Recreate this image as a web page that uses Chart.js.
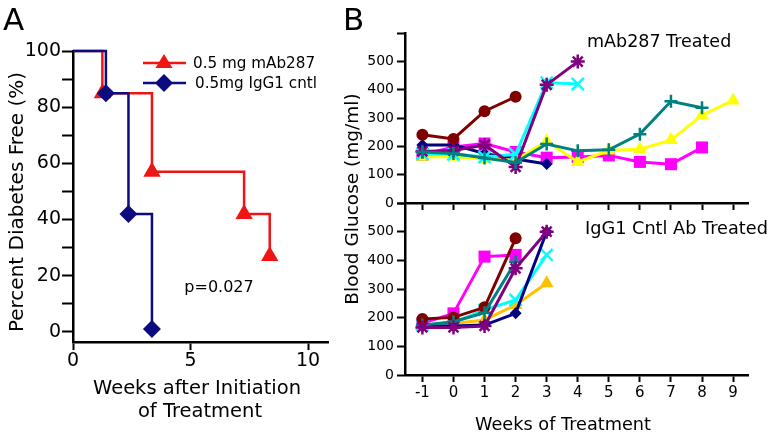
<!DOCTYPE html>
<html>
<head>
<meta charset="utf-8">
<script src="https://cdn.jsdelivr.net/npm/chart.js@4.4.0/dist/chart.umd.min.js"></script>
<style>
  html, body { margin: 0; padding: 0; background: #fff; }
  #wrap { position: relative; width: 776px; height: 436px; overflow: hidden; font-family: 'DejaVu Sans', Verdana, sans-serif; color: #000; }
  canvas { position: absolute; top: 0; }
  .txt { position: absolute; white-space: nowrap; line-height: 1; }
  .c { transform: translate(-50%, -50%); }
  .rot { transform: translate(-50%, -50%) rotate(-90deg); }
</style>
</head>
<body>
<div id="wrap">
  <canvas id="chartA" width="345" height="436" style="left:0"></canvas>
  <canvas id="chartTop" width="431" height="436" style="left:345px"></canvas>
  <canvas id="chartBot" width="431" height="436" style="left:345px"></canvas>

  <div class="txt" style="left:3px;top:4px;font-size:31px">A</div>
  <div class="txt" style="left:343px;top:4px;font-size:31px">B</div>
  <div class="txt rot" style="left:16px;top:202px;font-size:20px">Percent Diabetes Free (%)</div>
  <div class="txt c" style="left:197px;top:388px;font-size:19.5px">Weeks after Initiation</div>
  <div class="txt c" style="left:200px;top:411px;font-size:19.5px">of Treatment</div>
  <div class="txt c" style="left:219px;top:287px;font-size:16px">p=0.027</div>
  <div class="txt rot" style="left:352px;top:199px;font-size:18.5px">Blood Glucose (mg/ml)</div>
  <div class="txt" style="left:587px;top:33px;font-size:17.5px">mAb287 Treated</div>
  <div class="txt" style="left:585px;top:220px;font-size:17.7px">IgG1 Cntl Ab Treated</div>
  <div class="txt c" style="left:563px;top:425px;font-size:17.7px">Weeks of Treatment</div>
</div>

<script>
// Panel A: survival (percent diabetes free)
const mabWeeks = [0, 1.25, 3.36, 7.28, 8.37];
const mabFree = [100, 85, 57, 42, 27];
const ctrlWeeks = [0, 1.4, 2.36, 3.36];
const ctrlFree = [100, 85, 42, 1];
const mabLabel = '0.5 mg mAb287';
const ctrlLabel = '0.5mg IgG1 cntl';
const aYTicks = [0, 10, 20, 30, 40, 50, 60, 70, 80, 90, 100];
const aXTicks = [0, 5, 10];

// Panel B: blood glucose per mouse, weeks -1..9
const weeksB = [-1, 0, 1, 2, 3, 4, 5, 6, 7, 8, 9];
const bYTicks = [0, 100, 200, 300, 400, 500, 600];

// mAb287 treated
const tealTop = [180, 175, 159, 143, 208, 184, 188, 243, 359, 336];
const purpleTop = [182, 185, 205, 127, 417, 499];
const darkRedTop = [241, 226, 324, 375];
const cyanTop = [173, 172, 162, 172, 425, 420];
const yellowTop = [163, 163, 155, 152, 218, 145, 185, 190, 222, 310, 362];
const navyTop = [205, 205, 175, 155, 138];
const magentaTop = [170, 198, 210, 180, 160, 162, 168, 145, 137, 196];

// IgG1 control treated
const purpleBot = [166, 166, 171, 372, 500];
const tealBot = [174, 186, 217, 395];
const darkRedBot = [195, 201, 236, 477];
const navyBot = [171, 171, 174, 215, 500];
const cyanBot = [174, 183, 227, 262, 419];
const orangeBot = [171, 180, 192, 244, 320];
const magentaBot = [180, 215, 413, 419];

Chart.defaults.font.family = "'DejaVu Sans', Verdana, sans-serif";
Chart.defaults.color = '#000';

const RED = '#f01414';
const BLUE = '#0c0c80';

function xy(xs, ys) {
    return ys.map((y, i) => ({ x: xs[i], y: y }));
}

function setTicks(list) {
    return function (scale) {
        scale.ticks = list.map(v => ({ value: v }));
    };
}

function markerSizes(n, r) {
    const out = [];
    for (let i = 0; i < n; i++) out.push(i === 0 ? 0 : r);
    return out;
}

// legend drawn inside panel A plot
const legendA = {
    id: 'legendA',
    afterDraw(chart) {
        const ctx = chart.ctx;
        const rows = [
            { y: 63, color: RED, label: mabLabel, shape: 'tri', tx: 193 },
            { y: 83, color: BLUE, label: ctrlLabel, shape: 'dia', tx: 195 }
        ];
        ctx.save();
        rows.forEach(r => {
            ctx.strokeStyle = r.color;
            ctx.fillStyle = r.color;
            ctx.lineWidth = 2.5;
            ctx.beginPath();
            ctx.moveTo(143, r.y);
            ctx.lineTo(186, r.y);
            ctx.stroke();
            ctx.beginPath();
            if (r.shape === 'tri') {
                ctx.moveTo(164, r.y - 9);
                ctx.lineTo(172.5, r.y + 5);
                ctx.lineTo(155.5, r.y + 5);
            } else {
                ctx.moveTo(164, r.y - 9);
                ctx.lineTo(173, r.y);
                ctx.lineTo(164, r.y + 9);
                ctx.lineTo(155, r.y);
            }
            ctx.closePath();
            ctx.fill();
            ctx.fillStyle = '#000';
            ctx.font = "15.2px 'DejaVu Sans', Verdana, sans-serif";
            ctx.textBaseline = 'middle';
            ctx.fillText(r.label, r.tx, r.y + 1);
        });
        ctx.restore();
    }
};

new Chart(document.getElementById('chartA'), {
    type: 'line',
    data: {
        datasets: [
            {
                label: ctrlLabel,
                data: xy(ctrlWeeks, ctrlFree),
                borderColor: BLUE,
                backgroundColor: BLUE,
                borderWidth: 2.5,
                stepped: true,
                pointStyle: 'rectRot',
                pointRadius: markerSizes(ctrlWeeks.length, 9),
                pointBorderWidth: 0,
                clip: false
            },
            {
                label: mabLabel,
                data: xy(mabWeeks, mabFree),
                borderColor: RED,
                backgroundColor: RED,
                borderWidth: 2.5,
                stepped: true,
                pointStyle: 'triangle',
                pointRadius: markerSizes(mabWeeks.length, 10),
                pointBorderWidth: 0,
                clip: false
            }
        ]
    },
    options: {
        responsive: false,
        animation: false,
        events: [],
        layout: { padding: { left: 0, top: 51, right: 17, bottom: 0 } },
        plugins: { legend: { display: false }, tooltip: { enabled: false } },
        scales: {
            x: {
                type: 'linear',
                min: 0,
                max: 10.85,
                afterBuildTicks: setTicks(aXTicks),
                afterFit(scale) { scale.height = 94; },
                border: { color: '#000', width: 2.5 },
                grid: { drawOnChartArea: false, drawTicks: true, tickLength: 8, tickColor: '#000', tickWidth: 2 },
                ticks: { font: { size: 19 }, padding: 0, maxRotation: 0 }
            },
            y: {
                min: -3.6,
                max: 100,
                afterBuildTicks: setTicks(aYTicks),
                afterFit(scale) { scale.width = 73; },
                border: { color: '#000', width: 2.5 },
                grid: { drawOnChartArea: false, drawTicks: true, tickLength: 11, tickColor: '#000', tickWidth: 2 },
                ticks: {
                    font: { size: 19 },
                    padding: 1,
                    callback: v => (v % 20 === 0 ? v : '')
                }
            }
        }
    },
    plugins: [legendA]
});

function mouse(values, color, style, radius) {
    return {
        data: values,
        borderColor: color,
        backgroundColor: color,
        borderWidth: 3,
        pointStyle: style,
        pointRadius: radius,
        pointBorderWidth: (style === 'cross' || style === 'crossRot' || style === 'star') ? 2.5 : 0,
        tension: 0,
        clip: false
    };
}

function panelB(canvasId, datasets, padTop, xHeight, showXLabels) {
    new Chart(document.getElementById(canvasId), {
        type: 'line',
        data: { labels: weeksB, datasets: datasets.map(d => Object.assign(d, { data: xy(weeksB, d.data) })) },
        options: {
            responsive: false,
            animation: false,
            events: [],
            layout: { padding: { left: 0, top: padTop, right: 28, bottom: 0 } },
            plugins: { legend: { display: false }, tooltip: { enabled: false } },
            scales: {
                x: {
                    type: 'linear',
                    min: -1.56,
                    max: 9.48,
                    afterBuildTicks: setTicks(weeksB),
                    afterFit(scale) { scale.height = xHeight; },
                    border: { color: '#000', width: 2.5 },
                    grid: { drawOnChartArea: false, drawTicks: true, tickLength: 7, tickColor: '#000', tickWidth: 2 },
                    ticks: { display: showXLabels, font: { size: 15 }, padding: 2, maxRotation: 0 }
                },
                y: {
                    min: 0,
                    max: 600,
                    afterBuildTicks: setTicks(bYTicks),
                    afterFit(scale) { scale.width = 60; },
                    border: { color: '#000', width: 2.5 },
                    grid: { drawOnChartArea: false, drawTicks: true, tickLength: 8, tickColor: '#000', tickWidth: 2 },
                    ticks: {
                        font: { size: 14 },
                        padding: 3,
                        callback: v => (v <= 500 ? v : '')
                    }
                }
            }
        }
    });
}

panelB('chartTop', [
    mouse(tealTop, '#008080', 'cross', 6.5),
    mouse(purpleTop, '#800080', 'star', 7),
    mouse(darkRedTop, '#800000', 'circle', 6),
    mouse(cyanTop, '#00ffff', 'crossRot', 8.5),
    mouse(yellowTop, '#ffff00', 'triangle', 8),
    mouse(navyTop, '#000080', 'rectRot', 6),
    mouse(magentaTop, '#ff00ff', 'rect', 8.5)
], 33, 233, false);

panelB('chartBot', [
    mouse(purpleBot, '#800080', 'star', 7),
    mouse(tealBot, '#008080', 'cross', 6.5),
    mouse(darkRedBot, '#800000', 'circle', 6),
    mouse(navyBot, '#000080', 'rectRot', 6),
    mouse(cyanBot, '#00ffff', 'crossRot', 8.5),
    mouse(orangeBot, '#ffc000', 'triangle', 8),
    mouse(magentaBot, '#ff00ff', 'rect', 8.5)
], 203, 61, true);
</script>
</body>
</html>
